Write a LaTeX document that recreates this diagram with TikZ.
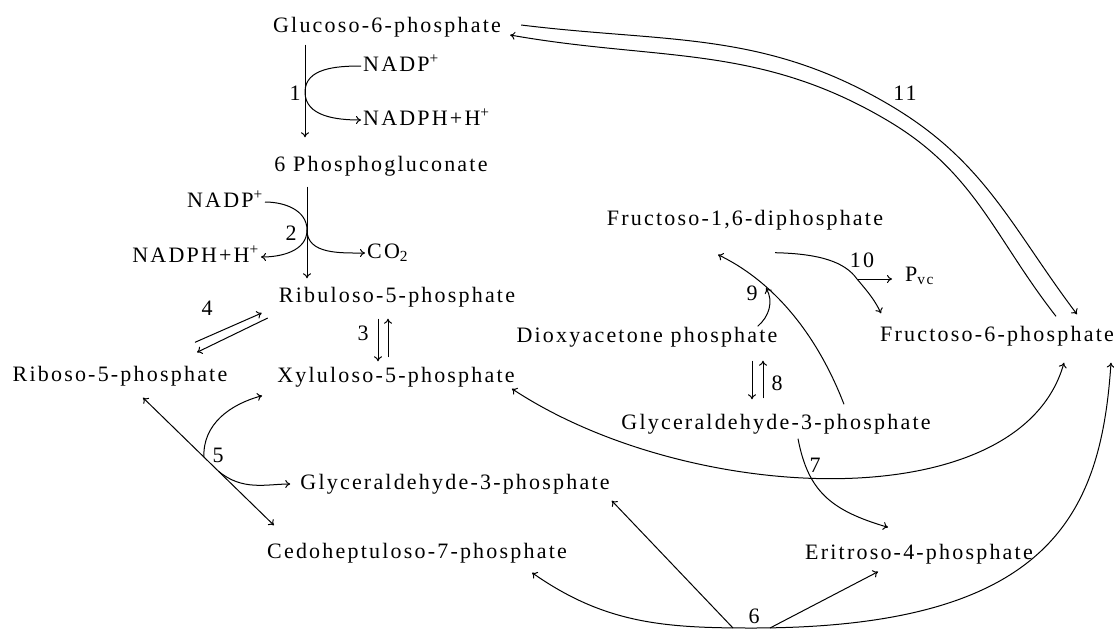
\documentclass[tikz,border=0pt]{standalone}
\usepackage{fontspec}
\setmainfont{Liberation Serif}[LetterSpace=10]
\usetikzlibrary{arrows.meta, calc}

\begin{document}
\begin{tikzpicture}[
    x=1pt, y=-1pt,
    font=\fontsize{22}{26}\selectfont,
    met/.style={inner sep=2pt, text height=16pt, text depth=5pt},
    num/.style={inner sep=1pt},
    arr/.style={-{To[length=5pt, width=8pt]}, line width=1pt},
    dbl/.style={{To[length=5pt, width=8pt]}-{To[length=5pt, width=8pt]}, line width=1pt},
    ln/.style={line width=1pt}
  ]
  \useasboundingbox (0,0) rectangle (1114,630);

  % metabolites
  \node[met] (glc) at (387,27) {Glucoso-6-phosphate};
  \node[met, anchor=west] (nadpa) at (361,66) {NADP\textsuperscript{+}};
  \node[met, anchor=west] (nadpha) at (361,120) {NADPH+H\textsuperscript{+}};
  \node[met] (pg) at (381,166) {6 Phosphogluconate};
  \node[met, anchor=east] (nadpb) at (265,202) {NADP\textsuperscript{+}};
  \node[met, anchor=east] (nadphb) at (261,257) {NADPH+H\textsuperscript{+}};
  \node[met, anchor=west] (co2) at (365,253) {CO\textsubscript{2}};
  \node[met] (rbl) at (397,297) {Ribuloso-5-phosphate};
  \node[met] (rbs) at (120,376) {Riboso-5-phosphate};
  \node[met] (xyl) at (396,377) {Xyluloso-5-phosphate};
  \node[met] (f16) at (745,220) {Fructoso-1,6-diphosphate};
  \node[met, anchor=west] (pvc) at (903,276) {P\textsubscript{vc}};
  \node[met] (f6) at (997,336) {Fructoso-6-phosphate};
  \node[met] (dhap) at (647,337) {Dioxyacetone phosphate};
  \node[met] (gapr) at (776,424) {Glyceraldehyde-3-phosphate};
  \node[met] (gapl) at (455,484) {Glyceraldehyde-3-phosphate};
  \node[met] (s7p) at (417,553) {Cedoheptuloso-7-phosphate};
  \node[met] (e4p) at (919,554) {Eritroso-4-phosphate};

  % enzyme numbers
  \node[num] (l1) at (295,93) {1};
  \node[num] (l2) at (291,233) {2};
  \node[num] (l3) at (363,333) {3};
  \node[num] (l4) at (207,308) {4};
  \node[num] (l5) at (218,455) {5};
  \node[num] (l6) at (754,616) {6};
  \node[num] (l7) at (815,465) {7};
  \node[num] (l8) at (777,383) {8};
  \node[num] (l9) at (752,293) {9};
  \node[num] (l10) at (862,260) {10};
  \node[num] (l11) at (905,93) {11};

  % reaction points
  \coordinate (r1) at (305,92);
  \coordinate (r2) at (307,230);
  \coordinate (r6) at (752,628);
  \coordinate (r9) at (766,288);
  \coordinate (r10) at (857,279);
  \coordinate (r11a) at (893,107);
  \coordinate (r11b) at (890,122);

  % 1
  \draw[arr, shorten <=5pt, shorten >=16pt] (r1 |- glc.south) -- (r1 |- pg.north);
  \draw[arr] (nadpa.west) to[out=180,in=90] (r1) to[out=-90,in=180] (nadpha.west);

  % 2
  \draw[arr, shorten <=8pt, shorten >=6pt] (r2 |- pg.south) -- (r2 |- rbl.north);
  \draw[ln] (nadpb.east) to[out=0,in=90] (r2);
  \draw[arr] (r2) to[out=-90,in=180] (co2.west);
  \draw[arr] (r2) to[out=-90,in=0] (nadphb.east);

  % 3 and 4
  \draw[arr] ($(rbl.south)+(-19,9)$) -- ($(xyl.north)+(-18,-3)$);
  \draw[arr] ($(xyl.north)+(-8,-7)$) -- ($(rbl.south)+(-9,9)$);
  \draw[arr] ($(rbs.north)+(75,-21)$) -- ($(rbl.west)+(-15,16)$);
  \draw[arr] ($(rbl.west)+(-9,21)$) -- ($(rbs.north)+(77,-11)$);

  % 5
  \coordinate (p5a) at ($(rbs.south)+(23,9)$);
  \coordinate (p5b) at ($(s7p.north west)+(9,-15)$);
  \draw[dbl] (p5a) -- (p5b);
  \coordinate (r5a) at ($(p5a)!0.465!(p5b)$);
  \coordinate (r5b) at ($(p5a)!0.575!(p5b)$);
  \draw[arr] (r5a) to[out=92,in=195] ($(xyl.south west)+(-13,6)$);
  \draw[arr, shorten >=8pt] (r5b) to[out=-40,in=180] (gapl.west);

  % 6
  \draw[arr] (r6) to[out=180,in=-35] ($(s7p.south east)+(-37,7)$);
  \draw[arr] ([xshift=-19pt]r6) -- ($(gapl.south east)+(0,4)$);
  \draw[arr] ([xshift=18pt]r6) -- ($(e4p.south)+(-41,5)$);
  \draw[arr] (r6) .. controls +(300,0) and +(-10,150) .. ($(f6.south)+(114,14)$);

  % 7
  \draw[arr] ($(gapr.south)+(22,2)$) .. controls +(10,52) and +(-58,-17) .. ($(e4p.north)+(-31,-14)$);
  \draw[dbl] ($(xyl.south east)+(-5,-1)$) .. controls +(177,117) and +(-44,157) .. ($(f6.south)+(67,14)$);

  % 8
  \draw[arr] ($(dhap.south)+(105,11)$) -- ($(gapr.north)+(-24,-12)$);
  \draw[arr] ($(gapr.north)+(-13,-13)$) -- ($(dhap.south)+(116,11)$);

  % 9
  \draw[arr] ($(gapr.north)+(68,-7)$) .. controls +(-29,-75) and +(52,25) .. ($(f16.south)+(-27,22)$);
  \draw[arr] ($(dhap.north east)+(-22,2)$) to[out=40,in=-60] (r9);

  % 10
  \draw[arr] ($(f16.south)+(30,20)$) .. controls +(45,1) and +(-12,-17) .. (r10)
    .. controls +(11,13) and +(-6,-13) .. ($(f6.north west)+(3,-10)$);
  \draw[arr, shorten >=11pt] (r10) -- (r10 -| pvc.west);

  % 11
  \draw[arr] ($(glc.east)+(18,-2)$) to[out=-7,in=149] (r11a) to[out=-31,in=127] ($(f6.north)+(80,-9)$);
  \draw[arr] ($(f6.north)+(59,-7)$) to[out=128,in=-31] (r11b) to[out=149,in=-10] ($(glc.east)+(7,8)$);

\end{tikzpicture}
\end{document}
